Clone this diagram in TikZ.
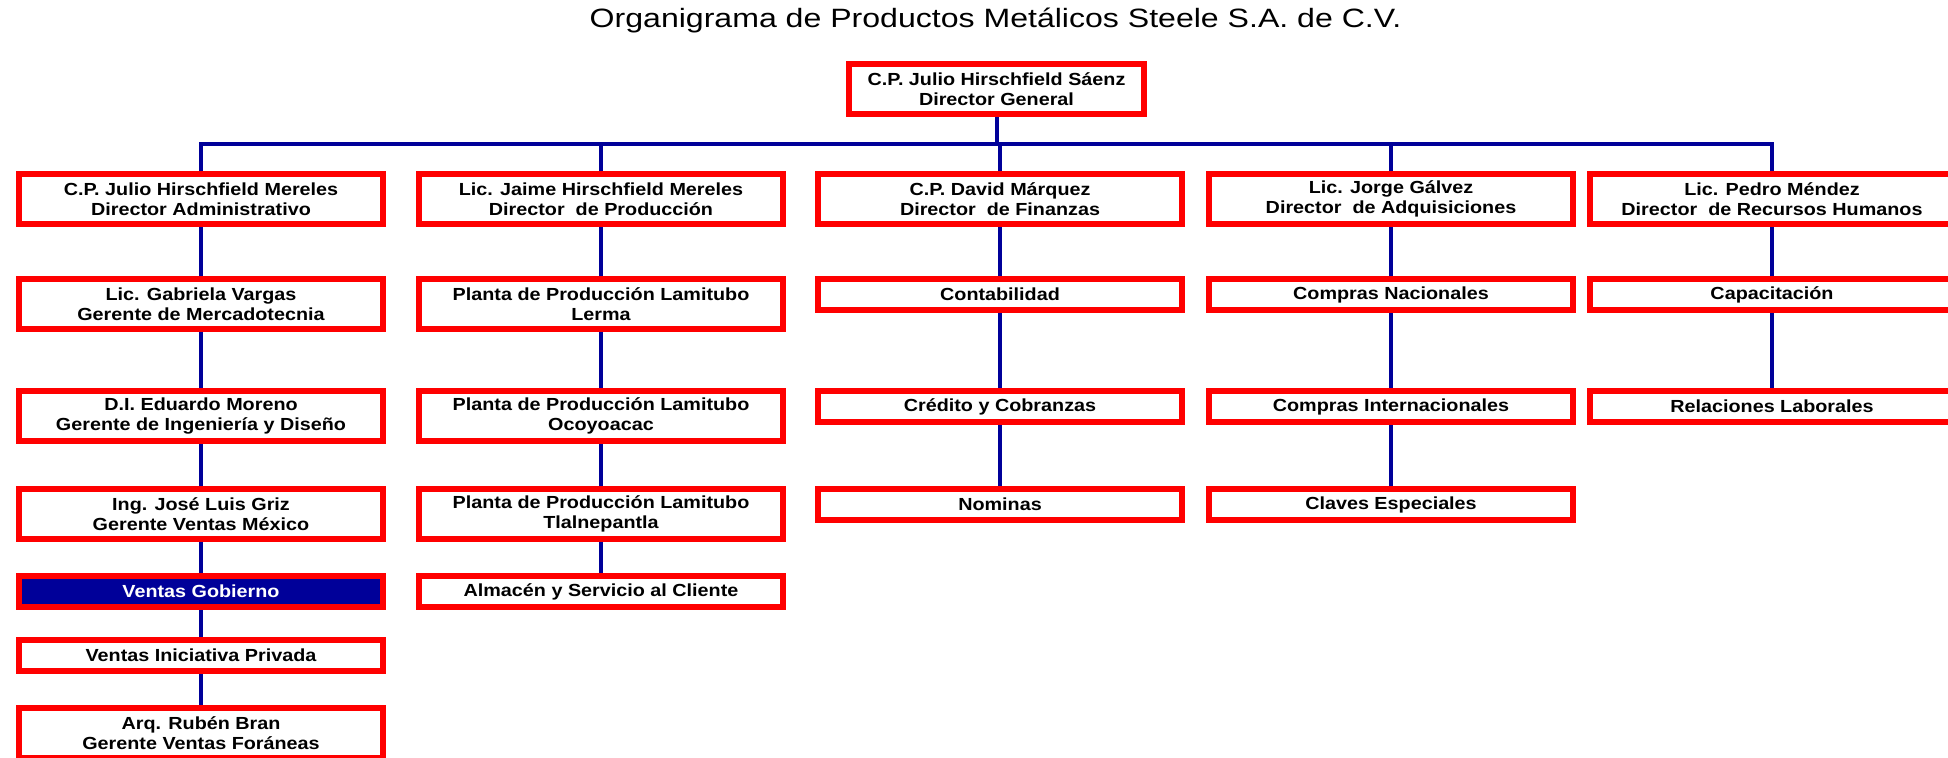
\documentclass[tikz,border=0pt]{standalone}
\usepackage{fontspec}
\setmainfont{Liberation Sans}
\newfontfamily\boxfont[FakeStretch=1.13]{Liberation Sans Bold}
\newfontfamily\titlefont[FakeStretch=1.21]{Liberation Sans}
\definecolor{orgred}{RGB}{255,0,0}
\definecolor{orgnavy}{RGB}{0,0,153}
\begin{document}
\begin{tikzpicture}[x=0.5pt,y=-0.5pt,
	puesto/.style={draw=orgred,line width=3pt,fill=white,minimum width=182pt,minimum height=25pt,inner sep=0pt,align=center,anchor=north,font=\boxfont\fontsize{8.75pt}{10pt}\selectfont},
	area/.style={puesto,minimum height=15.5pt},
	link/.style={draw=orgnavy,line width=2pt,line join=miter}]
		\def\cA{201}
		\def\cB{601}
		\def\cC{1000}
		\def\cD{1391}
		\def\cE{1772}
		\useasboundingbox (0,0) rectangle (1948,757);
		\clip (0,0) rectangle (1948,757);
		\node[anchor=base,font=\titlefont\fontsize{13.25pt}{15pt}\selectfont] (titulo) at (995.5,27.5) {Organigrama de Productos Metálicos Steele S.A. de C.V.};
		\node[puesto,minimum width=147.5pt] (dg) at (996.5,61) {C.P. Julio Hirschfield Sáenz\\Director General};
		% directores
		\node[puesto] (adm) at (\cA,171) {C.P. Julio Hirschfield Mereles\\Director Administrativo};
		\node[puesto] (prod) at (\cB,171) {Lic. Jaime Hirschfield Mereles\\Director~ de Producción};
		\node[puesto] (fin) at (\cC,171) {C.P. David Márquez\\Director~ de Finanzas};
		\node[puesto] (adq) at (\cD,171) {Lic. Jorge Gálvez\\Director~ de Adquisiciones};
		\node[puesto] (rh) at (\cE,171) {Lic. Pedro Méndez\\Director~ de Recursos Humanos};
		% administracion
		\node[puesto] (mkt) at (\cA,276) {Lic. Gabriela Vargas\\Gerente de Mercadotecnia};
		\node[puesto] (ing) at (\cA,388) {D.I. Eduardo Moreno\\Gerente de Ingeniería y Diseño};
		\node[puesto] (mex) at (\cA,486) {Ing. José Luis Griz\\Gerente Ventas México};
		\node[area,fill=orgnavy,text=white] (gob) at (\cA,573) {Ventas Gobierno};
		\node[area] (priv) at (\cA,637) {Ventas Iniciativa Privada};
		\node[puesto] (for) at (\cA,705) {Arq. Rubén Bran\\Gerente Ventas Foráneas};
		% produccion
		\node[puesto] (lerma) at (\cB,276) {Planta de Producción Lamitubo\\Lerma};
		\node[puesto] (ocoy) at (\cB,388) {Planta de Producción Lamitubo\\Ocoyoacac};
		\node[puesto] (tlal) at (\cB,486) {Planta de Producción Lamitubo\\Tlalnepantla};
		\node[area] (alm) at (\cB,573) {Almacén y Servicio al Cliente};
		% finanzas
		\node[area] (cont) at (\cC,276) {Contabilidad};
		\node[area] (cred) at (\cC,388) {Crédito y Cobranzas};
		\node[area] (nom) at (\cC,486) {Nominas};
		% adquisiciones
		\node[area] (cnac) at (\cD,276) {Compras Nacionales};
		\node[area] (cint) at (\cD,388) {Compras Internacionales};
		\node[area] (clav) at (\cD,486) {Claves Especiales};
		% recursos humanos
		\node[area] (cap) at (\cE,276) {Capacitación};
		\node[area] (rel) at (\cE,388) {Relaciones Laborales};
		% lineas
		\coordinate (bus) at (996.5,144);
		\draw[link] (dg.south) -- (bus);
		\draw[link] (adm.north) -- (adm.north |- bus) -- (rh.north |- bus) -- (rh.north);
		\foreach \d in {prod,fin,adq}
			\draw[link] (\d.north) -- (\d.north |- bus);
		\foreach \a/\b in {adm/mkt,mkt/ing,ing/mex,mex/gob,gob/priv,priv/for,prod/lerma,lerma/ocoy,ocoy/tlal,tlal/alm,fin/cont,cont/cred,cred/nom,adq/cnac,cnac/cint,cint/clav,rh/cap,cap/rel}
			\draw[link] (\a.south) -- (\b.north);
	\end{tikzpicture}
\end{document}
